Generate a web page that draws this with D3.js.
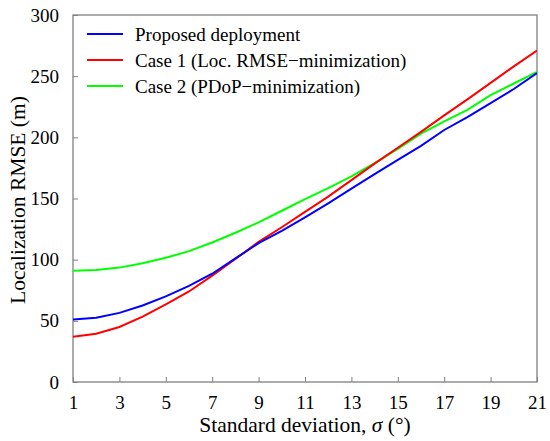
<!DOCTYPE html>
<html>
<head>
<meta charset="utf-8">
<script src="https://cdn.jsdelivr.net/npm/d3@7"></script>
<style>
  html, body { margin: 0; padding: 0; background: #fff; }
  svg { display: block; }
  text { font-family: "Liberation Serif", "Times New Roman", serif; fill: #000; }
</style>
</head>
<body>
<svg id="chart" width="550" height="441"></svg>
<script>
const sigma = [1,2,3,4,5,6,7,8,9,10,11,12,13,14,15,16,17,18,19,20,21];
const proposed = [51, 52.5, 56.5, 62.5, 70, 78.5, 88.5, 101, 113.5, 123.5, 134.5, 146, 158, 170, 181.5, 193, 206, 216.5, 228, 239.5, 252.5];
const case1 = [37, 39.5, 45, 53.5, 63.5, 74, 87, 100.5, 114.5, 126.5, 139, 151.5, 165, 178.5, 191.5, 204.5, 218, 231, 244.5, 258, 271];
const case2 = [91, 91.5, 93.5, 97, 101.5, 107, 114, 122, 130.5, 140, 149.5, 158.5, 168, 179, 190.5, 203, 213, 222.5, 234.5, 244, 253.5];
const seriesNames = ["Proposed deployment", "Case 1 (Loc. RMSE\u2212minimization)", "Case 2 (PDoP\u2212minimization)"];
const seriesColors = ["#0000ff", "#ff0000", "#00ff00"];
const xTicks = [1,3,5,7,9,11,13,15,17,19,21];
const yTicks = [0,50,100,150,200,250,300];

const svg = d3.select("#chart");
const L = 73, R = 537, T = 15, B = 382;
const x = d3.scaleLinear().domain([1, 21]).range([L, R]);
const y = d3.scaleLinear().domain([0, 300]).range([B, T]);
const frameColor = "#808080";

// frame
svg.append("rect").attr("x", L).attr("y", T).attr("width", R - L).attr("height", B - T)
  .attr("fill", "none").attr("stroke", frameColor).attr("stroke-width", 1.3);

// x axis
const xAxis = svg.append("g").attr("transform", `translate(0,${B})`)
  .call(d3.axisBottom(x).tickValues(xTicks).tickSize(-5).tickPadding(14).tickFormat(d3.format("d")));
xAxis.select(".domain").remove();
xAxis.selectAll(".tick line").attr("stroke", frameColor);
xAxis.selectAll(".tick text").attr("font-size", 19).attr("font-family", "Liberation Serif").attr("fill", "#000");

// y axis
const yAxis = svg.append("g").attr("transform", `translate(${L},0)`)
  .call(d3.axisLeft(y).tickValues(yTicks).tickSize(-5).tickPadding(14).tickFormat(d3.format("d")));
yAxis.select(".domain").remove();
yAxis.selectAll(".tick line").attr("stroke", frameColor);
yAxis.selectAll(".tick text").attr("font-size", 19).attr("font-family", "Liberation Serif").attr("fill", "#000");

// lines
const data = [proposed, case1, case2];
const line = d3.line().x((d, i) => x(sigma[i])).y(d => y(d));
svg.append("clipPath").attr("id", "clip").append("rect")
  .attr("x", L).attr("y", T).attr("width", R - L).attr("height", B - T);
[2, 1, 0].forEach(k => {
  svg.append("path").datum(data[k]).attr("d", line)
    .attr("fill", "none").attr("stroke", seriesColors[k]).attr("stroke-width", 2)
    .attr("clip-path", "url(#clip)");
});

// legend
const lg = svg.append("g");
seriesNames.forEach((name, i) => {
  const ly = 34 + i * 26;
  lg.append("line").attr("x1", 87).attr("x2", 123).attr("y1", ly).attr("y2", ly)
    .attr("stroke", seriesColors[i]).attr("stroke-width", 2);
  lg.append("text").attr("x", 135).attr("y", ly).attr("dy", "0.35em")
    .attr("font-size", 19).text(name);
});

// axis labels
const xl = svg.append("text").attr("x", (L + R) / 2).attr("y", 432)
  .attr("text-anchor", "middle").attr("font-size", 21.5);
xl.append("tspan").text("Standard deviation, ");
xl.append("tspan").attr("font-style", "italic").text("\u03c3");
xl.append("tspan").text(" (\u00b0)");

svg.append("text").attr("transform", `translate(25,200) rotate(-90)`)
  .attr("text-anchor", "middle").attr("font-size", 21.5).text("Localization RMSE (m)");
</script>
</body>
</html>
